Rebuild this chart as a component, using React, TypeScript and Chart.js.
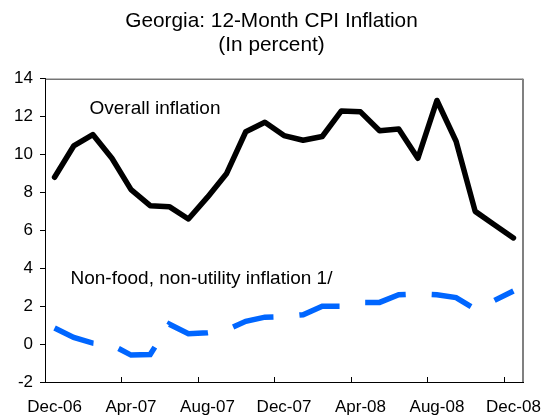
import React, { useEffect, useRef } from 'react';
import { Chart, registerables } from 'chart.js';

Chart.register(...registerables);

const months = [
  'Dec-06', 'Jan-07', 'Feb-07', 'Mar-07', 'Apr-07', 'May-07', 'Jun-07', 'Jul-07', 'Aug-07',
  'Sep-07', 'Oct-07', 'Nov-07', 'Dec-07', 'Jan-08', 'Feb-08', 'Mar-08', 'Apr-08', 'May-08',
  'Jun-08', 'Jul-08', 'Aug-08', 'Sep-08', 'Oct-08', 'Nov-08', 'Dec-08',
];

const overallInflation = [
  8.8, 10.45, 11.05, 9.8, 8.15, 7.3, 7.25, 6.6, 7.75, 9.0, 11.2, 11.7, 11.0,
  10.75, 10.95, 12.3, 12.25, 11.25, 11.35, 9.8, 12.85, 10.7, 7.0, 6.3, 5.6,
];

const nonFoodInflation = [
  0.85, 0.35, 0.05, -0.05, -0.58, -0.55, 1.05, 0.55, 0.6, 0.75, 1.2, 1.42, 1.45,
  1.55, 2.0, 2.0, 2.2, 2.2, 2.6, 2.65, 2.6, 2.45, 1.85, 2.3, 2.8,
];

const titleLines = ['Georgia: 12-Month CPI Inflation', '(In percent)'];
const labelEvery = 4;

const FONT = "'Liberation Sans', Arial, sans-serif";

const annotationsPlugin = {
  id: 'annotations',
  afterDraw(chart: any) {
    const { ctx } = chart;
    ctx.save();
    ctx.fillStyle = '#000';
    ctx.font = `19px ${FONT}`;
    ctx.textAlign = 'left';
    ctx.textBaseline = 'alphabetic';
    ctx.fillText('Overall inflation', 89.5, 113.5);
    ctx.fillText('Non-food, non-utility inflation 1/', 70.5, 283.5);
    ctx.restore();
  },
};

const framePlugin = {
  id: 'frame',
  afterDraw(chart: any) {
    const { ctx, chartArea } = chart;
    const x = chart.scales.x;
    const { left, right, top, bottom } = chartArea;
    ctx.save();
    ctx.strokeStyle = '#333';
    ctx.lineWidth = 1;
    ctx.beginPath();
    ctx.moveTo(left, top + 0.5);
    ctx.lineTo(right, top + 0.5);
    ctx.stroke();
    ctx.strokeStyle = '#808080';
    ctx.lineWidth = 2;
    ctx.beginPath();
    ctx.moveTo(right, top);
    ctx.lineTo(right, bottom);
    ctx.stroke();
    const half = (x.getPixelForValue(1) - x.getPixelForValue(0)) / 2;
    ctx.strokeStyle = '#000';
    ctx.lineWidth = 1;
    for (let i = 0; i < months.length; i += labelEvery) {
      const px = Math.round(x.getPixelForValue(i) - half) + 0.5;
      ctx.beginPath();
      ctx.moveTo(px, bottom);
      ctx.lineTo(px, bottom - 5);
      ctx.stroke();
    }
    ctx.restore();
  },
};

export default function App() {
  const ref = useRef<HTMLCanvasElement | null>(null);

  useEffect(() => {
    const canvas = ref.current;
    if (!canvas) return;
    Chart.defaults.font.family = FONT;
    Chart.defaults.color = '#000';
    const chart = new Chart(canvas, {
      type: 'line',
      data: {
        labels: months,
        datasets: [
          {
            label: 'Overall inflation',
            data: overallInflation,
            borderColor: '#000000',
            borderWidth: 5.5,
            borderCapStyle: 'round',
            borderJoinStyle: 'round',
            pointRadius: 0,
            tension: 0,
            fill: false,
          },
          {
            label: 'Non-food, non-utility inflation 1/',
            data: nonFoodInflation,
            borderColor: '#0066FF',
            borderWidth: 5.5,
            borderDash: [42, 26],
            borderCapStyle: 'butt',
            borderJoinStyle: 'miter',
            pointRadius: 0,
            tension: 0,
            fill: false,
          },
        ],
      },
      options: {
        responsive: false,
        animation: false,
        devicePixelRatio: 1,
        layout: { padding: 0 },
        plugins: {
          legend: { display: false },
          tooltip: { enabled: false },
          title: {
            display: true,
            text: titleLines,
            color: '#000',
            font: { size: 20.8, weight: 'normal', family: FONT, lineHeight: 1.17 },
            padding: { top: 9, bottom: 21 },
          },
        },
        scales: {
          x: {
            type: 'category',
            offset: true,
            grid: { display: false, drawTicks: false, offset: true },
            border: { display: true, color: '#000', width: 1 },
            ticks: {
              autoSkip: false,
              maxRotation: 0,
              minRotation: 0,
              padding: 15,
              font: { size: 17, family: FONT },
              color: '#000',
              callback: (_v: any, i: number) => (i % labelEvery === 0 ? months[i] : ''),
            },
            afterFit: (s: any) => {
              s.height = 34;
              s.paddingLeft = 0;
              s.paddingRight = 20;
            },
          },
          y: {
            min: -2,
            max: 14,
            grid: { drawOnChartArea: false, drawTicks: true, tickLength: 5, color: '#000' },
            border: { display: true, color: '#000', width: 1 },
            ticks: {
              stepSize: 2,
              padding: 7,
              font: { size: 17, family: FONT },
              color: '#000',
            },
            afterFit: (s: any) => {
              s.width = 45;
            },
          },
        },
      },
      plugins: [framePlugin, annotationsPlugin],
    });
    return () => chart.destroy();
  }, []);

  return (
    <div style={{ position: 'fixed', left: 0, top: 0, width: 543, height: 416, background: '#fff' }}>
      <canvas ref={ref} width={543} height={416} style={{ display: 'block', width: 543, height: 416 }} />
    </div>
  );
}
